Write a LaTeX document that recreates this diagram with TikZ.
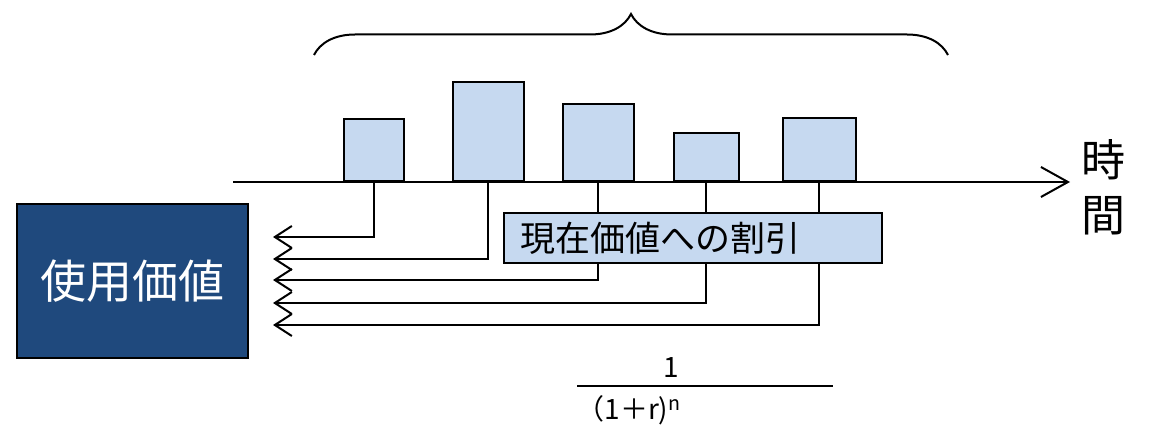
\documentclass[tikz,border=0pt]{standalone}
\usepackage{fontspec}
\setmainfont{Noto Sans CJK JP}
\usetikzlibrary{arrows.meta,decorations.pathreplacing}
\definecolor{barblue}{RGB}{198,217,240}
\definecolor{valblue}{RGB}{31,73,125}
\tikzset{
	bar/.style={draw, line width=2pt, fill=barblue, anchor=south, inner sep=0pt},
	flow/.style={line width=2pt, -{Straight Barb[length=17pt,width=22pt]}},
}

\begin{document}
\begin{tikzpicture}[x=1pt,y=-1pt]
			\useasboundingbox (0,0) rectangle (1150,427);
			% time axis
			\coordinate (ax0) at (233,182);
			\coordinate (ax1) at (1070,182);
			\draw[line width=2pt, -{Straight Barb[length=27pt,width=30pt]}] (ax0) -- (ax1);
			\node[font=\fontsize{44}{55}\selectfont, align=center] (time) at (1103,187) {時\\間};
			% cash flows
			\foreach \i/\cx/\w/\h in {1/374/60/62, 2/488/71/99, 3/598/71/77, 4/706/65/48, 5/819/73/63} {
				\node[bar, minimum width=\w pt, minimum height=\h pt] (bar\i) at (\cx,182) {};
			}
			\foreach \i/\y in {1/237, 2/259, 3/280, 4/303, 5/325} {
				\coordinate (tip\i) at (273,\y);
				\draw[flow] (bar\i.south) |- (tip\i);
			}
			\node[draw, line width=2pt, fill=barblue, minimum height=50pt, text width=346pt, inner xsep=16pt, align=left, font=\fontsize{35}{40}\selectfont] (disc) at (693,238) {現在価値への割引};
			\node[draw, line width=2pt, fill=valblue, text=white, minimum width=231pt, minimum height=154pt, font=\fontsize{46}{55}\selectfont] (use) at (132,281) {使用価値};
			% brace
			\draw[line width=2pt, decorate, decoration={brace, amplitude=41pt}] (314,55) -- (948,55);
			% discount factor
			\node[font=\fontsize{28}{34}\selectfont] (num) at (671,368) {1};
			\coordinate (fr0) at (577,386);
			\coordinate (fr1) at (833,386);
			\draw[line width=1.8pt] (fr0) -- (fr1);
			\node[font=\fontsize{28}{34}\selectfont, anchor=west] (den) at (573,410) {（1＋r)\textsuperscript{n}};
\end{tikzpicture}
\end{document}
